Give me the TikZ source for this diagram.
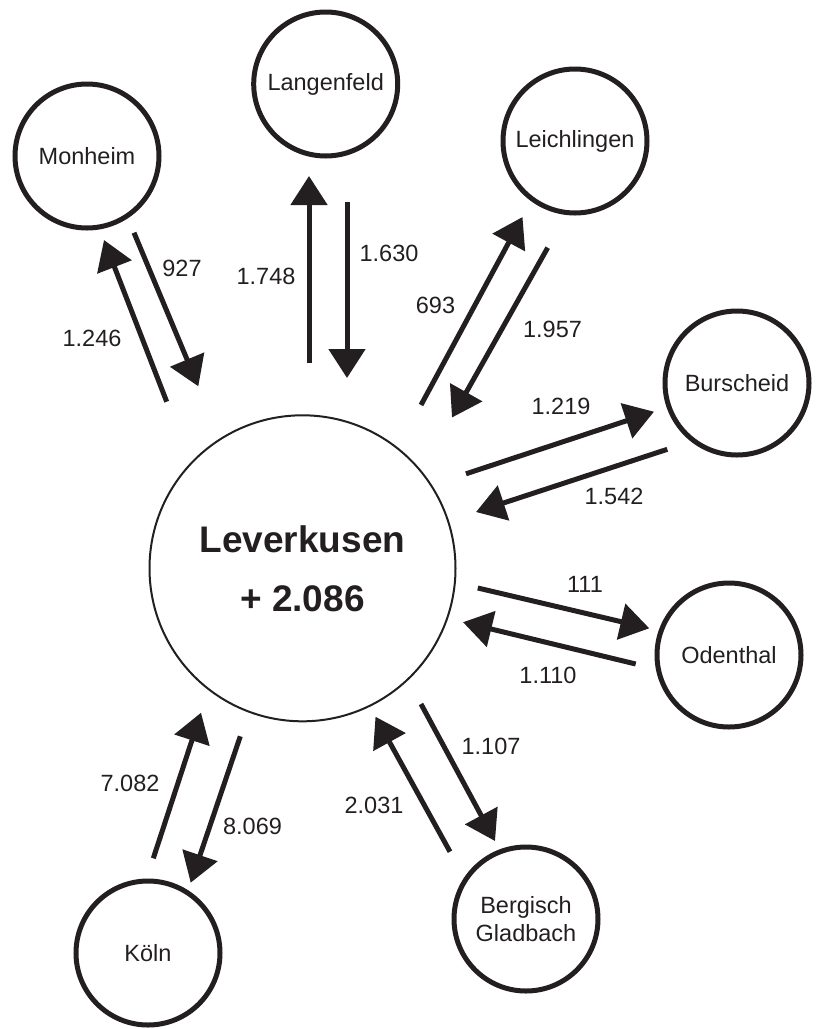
\documentclass[tikz,border=0pt]{standalone}
\usepackage{fontspec}
\setmainfont{Liberation Sans}
\usetikzlibrary{arrows.meta}
\definecolor{ink}{RGB}{35,31,32}
\tikzset{
  town/.style={circle,draw=ink,line width=5pt,minimum size=144pt,inner sep=0pt,
    text=ink,align=center,font=\fontsize{23.5}{28.5}\selectfont},
  hub/.style={circle,draw=ink,line width=2pt,minimum size=306pt,inner sep=0pt,
    text=ink,align=center,font=\fontsize{37}{59}\selectfont\bfseries},
  flow/.style={draw=ink,line width=5pt,-{Triangle[length=29pt,width=36pt]}},
  num/.style={inner sep=0pt,text=ink,font=\fontsize{23.5}{28}\selectfont}
}
\begin{document}
\begin{tikzpicture}[x=1pt,y=-1pt]
\useasboundingbox (0,0) rectangle (816,1029);
% nodes
\node[hub]  (lev) at (302.5,568.3) {Leverkusen\\+ 2.086};
\node[town] (mon) at (87,156) {Monheim};
\node[town] (lan) at (325.7,84) {Langenfeld};
\node[town] (lei) at (575,141) {Leichlingen};
\node[town] (bur) at (737,383) {Burscheid};
\node[town] (ode) at (729,655) {Odenthal};
\node[town] (ber) at (526,919) {Bergisch\\Gladbach};
\node[town] (koe) at (148,953) {Köln};
% arrow end points
\coordinate (a1s) at (166.7,401.7); \coordinate (a1e) at (104,240);
\coordinate (a2s) at (134,232.7);   \coordinate (a2e) at (198.3,386.3);
\coordinate (a3s) at (309,363.3);   \coordinate (a3e) at (309,176);
\coordinate (a4s) at (347,201.7);   \coordinate (a4e) at (347,378);
\coordinate (a5s) at (421,405);     \coordinate (a5e) at (522.5,217);
\coordinate (a6s) at (547.7,247.7); \coordinate (a6e) at (452,417.5);
\coordinate (a7s) at (466,473.8);   \coordinate (a7e) at (654,411.7);
\coordinate (a8s) at (667.3,449.3); \coordinate (a8e) at (476,512);
\coordinate (a9s) at (477.8,588);   \coordinate (a9e) at (649.3,628.3);
\coordinate (a10s) at (635.7,664);  \coordinate (a10e) at (463,622.2);
\coordinate (a11s) at (421,704);    \coordinate (a11e) at (495,841);
\coordinate (a12s) at (450,851.7);  \coordinate (a12e) at (375.5,716.7);
\coordinate (a13s) at (153.3,858.3);\coordinate (a13e) at (201,712.7);
\coordinate (a14s) at (240.3,736.3);\coordinate (a14e) at (190.7,882.7);
% arrows
\draw[flow] (a1s) -- (a1e);
\draw[flow] (a2s) -- (a2e);
\draw[flow] (a3s) -- (a3e);
\draw[flow] (a4s) -- (a4e);
\draw[flow] (a5s) -- (a5e);
\draw[flow] (a6s) -- (a6e);
\draw[flow] (a7s) -- (a7e);
\draw[flow] (a8s) -- (a8e);
\draw[flow] (a9s) -- (a9e);
\draw[flow] (a10s) -- (a10e);
\draw[flow] (a11s) -- (a11e);
\draw[flow] (a12s) -- (a12e);
\draw[flow] (a13s) -- (a13e);
\draw[flow] (a14s) -- (a14e);
% labels
\node[num] (l1246) at (92,338) {1.246};
\node[num] (l927)  at (182,268) {927};
\node[num] (l1748) at (266,276.5) {1.748};
\node[num] (l1630) at (389,253.5) {1.630};
\node[num] (l693)  at (435.5,305) {693};
\node[num] (l1957) at (552.5,329) {1.957};
\node[num] (l1219) at (561,406) {1.219};
\node[num] (l1542) at (614,496.3) {1.542};
\node[num] (l111)  at (585,584.7) {111};
\node[num] (l1110) at (548,675.5) {1.110};
\node[num] (l1107) at (491,746.5) {1.107};
\node[num] (l2031) at (374,805.5) {2.031};
\node[num] (l7082) at (130,783) {7.082};
\node[num] (l8069) at (252.5,826.5) {8.069};
\end{tikzpicture}
\end{document}
